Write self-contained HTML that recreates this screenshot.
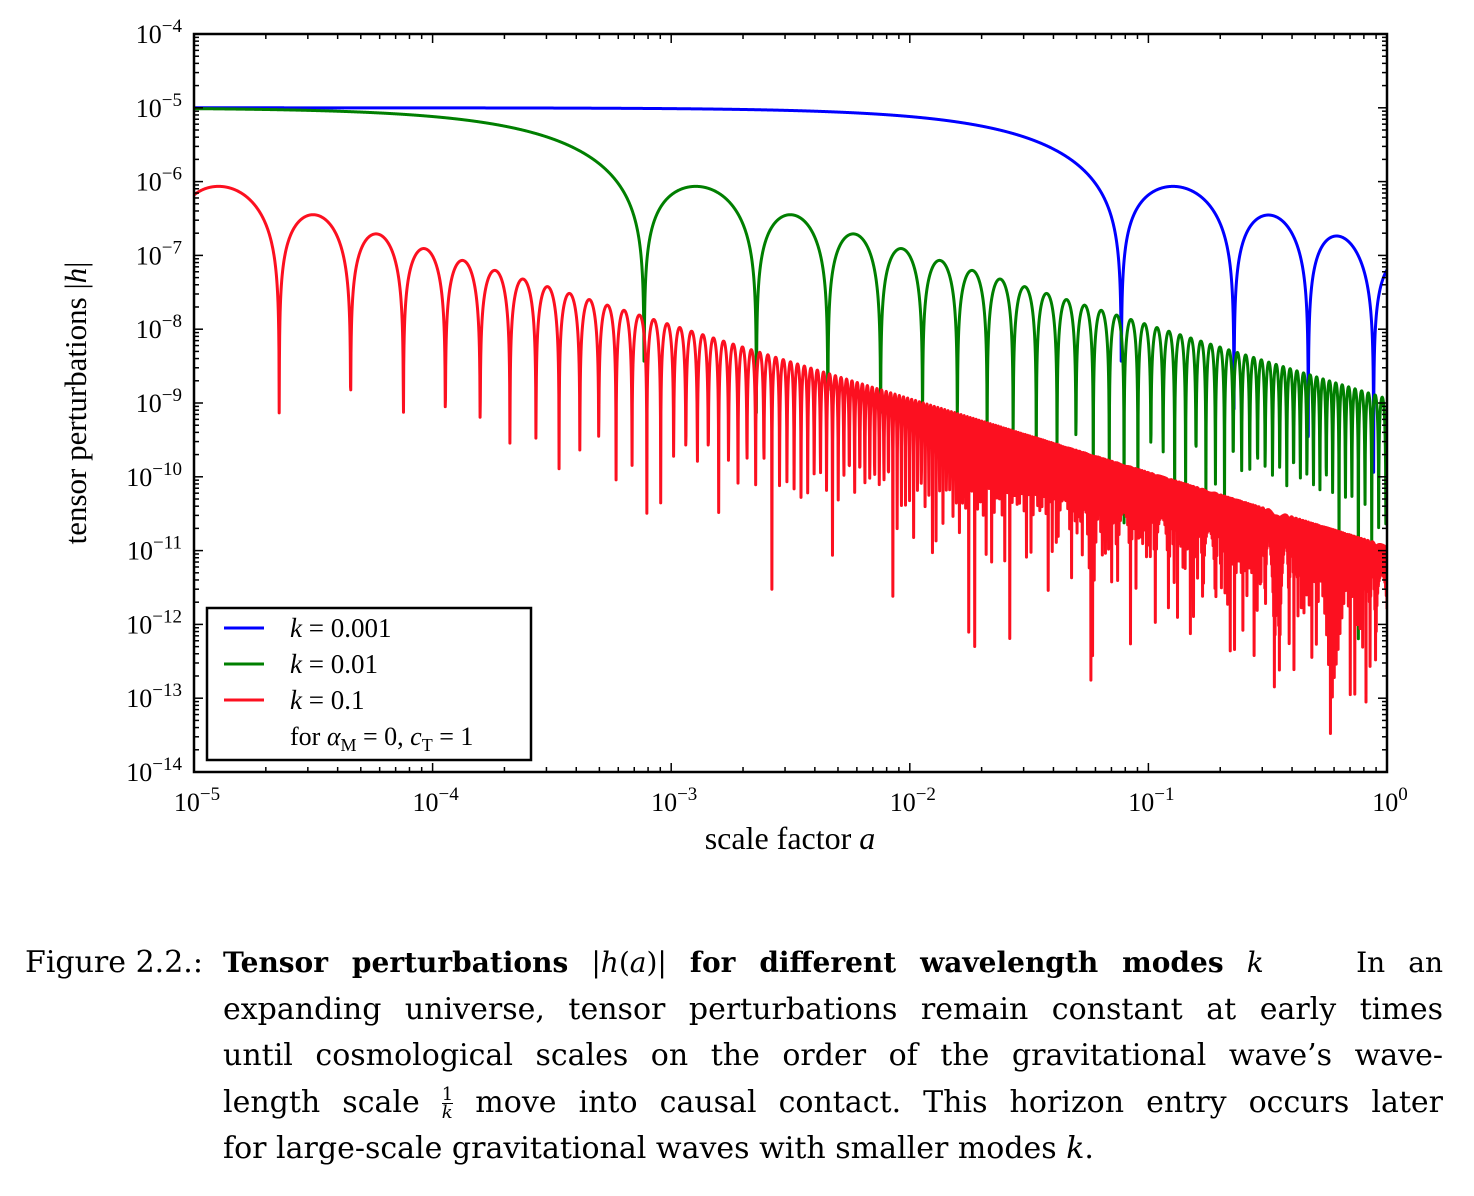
<!DOCTYPE html>
<html><head><meta charset="utf-8"><style>
html,body{margin:0;padding:0;background:#fff;}
body{width:1474px;height:1196px;position:relative;overflow:hidden;font-family:"Liberation Serif","DejaVu Serif",serif;color:#000;}
svg{position:absolute;left:0;top:0;}
.cap{position:absolute;font-family:"DejaVu Serif",serif;font-size:30px;line-height:46.5px;}
.ln{text-align:justify;text-align-last:justify;white-space:nowrap;height:46.5px;}
.ln.last{text-align-last:left;}
</style></head><body>
<svg id="chart" width="1474" height="880" font-family="Liberation Serif, DejaVu Serif, serif">
<defs><clipPath id="pc"><rect x="194" y="34" width="1193" height="738"/></clipPath></defs>
<g id="series" clip-path="url(#pc)"></g>
<rect x="194" y="34" width="1193" height="738" fill="none" stroke="#000" stroke-width="2.5"/>
<g id="ticks"></g>
<g id="labels"></g>
<text x="790" y="849" font-size="32" text-anchor="middle">scale factor <tspan font-style="italic">a</tspan></text>
<text transform="translate(86,403) rotate(-90)" font-size="31" text-anchor="middle">tensor perturbations |<tspan font-style="italic">h</tspan>|</text>
<g>
<rect x="207" y="608" width="324" height="152" fill="#fff" stroke="#000" stroke-width="2.5"/>
<line x1="224" y1="628" x2="264" y2="628" stroke="#0000ff" stroke-width="3"/>
<line x1="224" y1="664" x2="264" y2="664" stroke="#007f00" stroke-width="3"/>
<line x1="224" y1="700" x2="264" y2="700" stroke="#fc1020" stroke-width="3"/>
<text x="290" y="637" font-size="27"><tspan font-style="italic">k</tspan> = 0.001</text>
<text x="290" y="673" font-size="27"><tspan font-style="italic">k</tspan> = 0.01</text>
<text x="290" y="709" font-size="27"><tspan font-style="italic">k</tspan> = 0.1</text>
<text x="290" y="745" font-size="26">for <tspan font-style="italic">α</tspan><tspan font-size="18" dy="6">M</tspan><tspan dy="-6"> = 0, </tspan><tspan font-style="italic">c</tspan><tspan font-size="18" dy="6">T</tspan><tspan dy="-6"> = 1</tspan></text>
</g>
</svg>
<div class="cap" style="left:25px;top:940px;">Figure 2.2.:</div>
<div class="cap" style="left:223px;top:940px;width:1220px;">
<div class="ln" style="font-size:28px;"><b>Tensor perturbations</b> |<i>h</i>(<i>a</i>)| <b>for different wavelength modes</b> <i>k</i> &nbsp;&nbsp; In an</div>
<div class="ln">expanding universe, tensor perturbations remain constant at early times</div>
<div class="ln">until cosmological scales on the order of the gravitational wave’s wave-</div>
<div class="ln">length scale <span style="display:inline-block;vertical-align:middle;font-size:18px;line-height:17px;text-align:center;"><span style="display:block;border-bottom:1px solid #000;">1</span><i>k</i></span> move into causal contact. This horizon entry occurs later</div>
<div class="ln last">for large-scale gravitational waves with smaller modes <i>k</i>.</div>
</div>
<script>
// data
const kValues = [0.001, 0.01, 0.1];
const seriesColors = ['#0000ff', '#007f00', '#fc1020'];
const amplitude = 1e-5;           // primordial |h|
const firstZeroA = 0.077;         // a of first zero for k = 0.001
const firstZeroK = 0.001;
const omegaM = 0.3;
const omegaL = 0.7;
const xTickExps = [-5, -4, -3, -2, -1, 0];
const yTickExps = [-4, -5, -6, -7, -8, -9, -10, -11, -12, -13, -14];

const L = 194, R = 1387, T = 34, B = 772;
const xMin = -5, xMax = 0, yMax = -4, yMin = -14;
function X(a) { return L + (Math.log10(a) - xMin) / (xMax - xMin) * (R - L); }
function Y(h) { return T + (yMax - Math.log10(h)) / (yMax - yMin) * (B - T); }
const NS = 'http://www.w3.org/2000/svg';

// conformal time tau(a) = int da / sqrt(Om a + OL a^4), analytic early part + numeric
function tau(a) {
  const a1 = 1e-4;
  if (a <= a1) return 2 * Math.sqrt(a / omegaM);
  let t = 2 * Math.sqrt(a1 / omegaM);
  const n = 400, la1 = Math.log(a1), la = Math.log(a);
  const dl = (la - la1) / n;
  for (let i = 0; i < n; i++) {
    const am = Math.exp(la1 + (i + 0.5) * dl);
    t += am * dl / Math.sqrt(omegaM * am + omegaL * Math.pow(am, 4));
  }
  return t;
}

const sg = document.getElementById('series');
const N = 5000;
const tauGrid = [];
for (let j = 0; j <= N; j++) tauGrid.push(tau(Math.pow(10, xMin + (xMax - xMin) * j / N)));
kValues.forEach((k, i) => {
  const a0 = firstZeroA * (firstZeroK / k) * (firstZeroK / k);
  const t0 = tau(a0);
  let d = '';
  for (let j = 0; j <= N; j++) {
    const a = Math.pow(10, xMin + (xMax - xMin) * j / N);
    const x = 4.4934 * tauGrid[j] / t0;
    const xm = 4.4934 * Math.sqrt(a / a0);
    let h;
    if (x < 1e-3) h = amplitude;
    else h = amplitude * Math.abs(3 * (Math.sin(x) - x * Math.cos(x)) / (x * xm * xm));
    h = Math.max(h, 1e-16);
    d += (j ? 'L' : 'M') + X(a).toFixed(2) + ' ' + Y(h).toFixed(2);
  }
  const p = document.createElementNS(NS, 'path');
  p.setAttribute('d', d);
  p.setAttribute('fill', 'none');
  p.setAttribute('stroke', seriesColors[i]);
  p.setAttribute('stroke-width', '3');
  p.setAttribute('stroke-linejoin', 'round');
  
  
  sg.appendChild(p);
});

const tg = document.getElementById('ticks');
const lg = document.getElementById('labels');
function tick(x1, y1, x2, y2, name) {
  const l = document.createElementNS(NS, 'line');
  l.setAttribute('x1', x1); l.setAttribute('y1', y1);
  l.setAttribute('x2', x2); l.setAttribute('y2', y2);
  l.setAttribute('stroke', '#000'); l.setAttribute('stroke-width', '1.5');
  
  
  tg.appendChild(l);
}
function label(x, y, e, anchor, name) {
  const t = document.createElementNS(NS, 'text');
  t.setAttribute('x', x); t.setAttribute('y', y);
  t.setAttribute('font-size', '26');
  t.setAttribute('text-anchor', anchor);
  
  
  const s = String(e).replace('-', '−');
  t.innerHTML = '10<tspan font-size="19" dy="-11">' + s + '</tspan>';
  lg.appendChild(t);
}
xTickExps.forEach(e => {
  const x = X(Math.pow(10, e));
  tick(x, B, x, B - 9, 'x-major-tick');
  tick(x, T, x, T + 9, 'x-major-tick-top');
  label(x + 3, 811, e, 'middle', 'x-tick-label');
  if (e < xMax) for (let m = 2; m < 10; m++) {
    const xm = X(m * Math.pow(10, e));
    tick(xm, B, xm, B - 5, 'x-minor-tick');
    tick(xm, T, xm, T + 5, 'x-minor-tick-top');
  }
});
yTickExps.forEach(e => {
  const y = Y(Math.pow(10, e));
  tick(L, y, L + 9, y, 'y-major-tick');
  tick(R, y, R - 9, y, 'y-major-tick-right');
  label(182, y + 9, e, 'end', 'y-tick-label');
  if (e < yMax) for (let m = 2; m < 10; m++) {
    const ym = Y(m * Math.pow(10, e));
    tick(L, ym, L + 5, ym, 'y-minor-tick');
    tick(R, ym, R - 5, ym, 'y-minor-tick-right');
  }
});
</script>
</body></html>
